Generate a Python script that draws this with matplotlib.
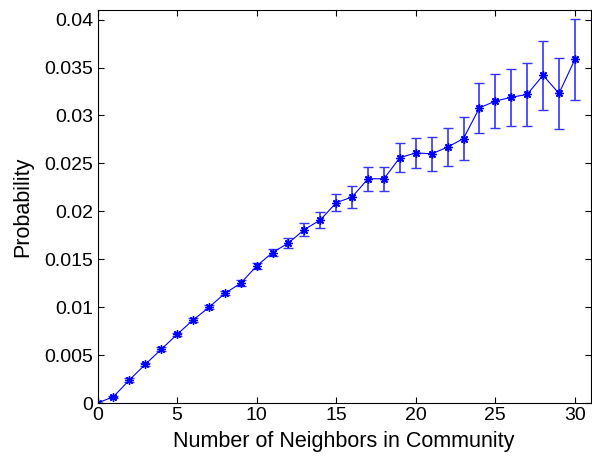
import numpy as np
import matplotlib.pyplot as plt

plt.rcParams['font.family'] = ['Liberation Sans', 'DejaVu Sans']

# number of neighbors inside the community
neighbors = list(range(31))

# probability per neighbor count
prob = [0.0, 0.00066, 0.0024, 0.00403, 0.0056, 0.00716, 0.00866, 0.00998,
        0.01144, 0.0125, 0.0143, 0.0157, 0.0167, 0.0181, 0.0191, 0.0209,
        0.0215, 0.0234, 0.0234, 0.0256, 0.0261, 0.0260, 0.0267, 0.0276,
        0.0308, 0.0315, 0.0319, 0.0322, 0.0342, 0.0323, 0.03585]

# half-width of the error bars
err = [0.0, 0.0001, 0.0002, 0.0002, 0.0002, 0.0002, 0.0002, 0.0002,
       0.0002, 0.0003, 0.00035, 0.0004, 0.00055, 0.0007, 0.0008, 0.0009,
       0.0011, 0.00125, 0.00125, 0.0015, 0.0016, 0.0018, 0.002, 0.0022,
       0.0026, 0.0028, 0.003, 0.0033, 0.0036, 0.0037, 0.0042]

xticks = [0, 5, 10, 15, 20, 25, 30]
yticks = [0, 0.005, 0.01, 0.015, 0.02, 0.025, 0.03, 0.035, 0.04]
ytick_labels = ['0', '0.005', '0.01', '0.015', '0.02', '0.025', '0.03',
                '0.035', '0.04']

fig = plt.figure(figsize=(5.92, 4.57), dpi=100)
ax = fig.add_axes([0.1647, 0.118, 0.8333, 0.860])

# asterisk marker: 8 arms like a combined + and x
ax.errorbar(neighbors, prob, yerr=err, color='#0000ff', lw=0.8,
            elinewidth=1.2, capsize=3.5, capthick=1.2, marker=(8, 2, 0),
            markersize=6, markeredgewidth=1.0, ecolor='#3535ff')

ax.set_xlim(0, 31)
ax.set_ylim(0, 0.041)
ax.set_xticks(xticks)
ax.set_yticks(yticks)
ax.set_yticklabels(ytick_labels)
ax.tick_params(direction='in', top=True, right=True, length=4,
               labelsize=14, width=0.8, pad=3)
for s in ax.spines.values():
    s.set_linewidth(0.8)

ax.set_xlabel('Number of Neighbors in Community', fontsize=15.5, labelpad=5)
ax.set_ylabel('Probability', fontsize=15.5, labelpad=8)

fig.savefig('out.png', dpi=100)
